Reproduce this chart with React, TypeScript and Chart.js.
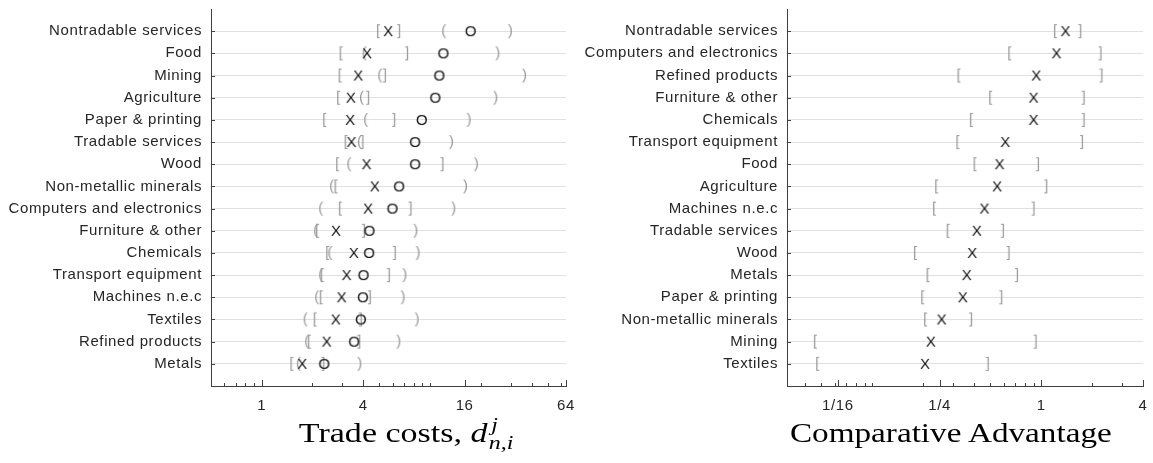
import React, { useEffect, useRef } from "react";
import { Chart, registerables } from "chart.js";

Chart.register(...registerables);

// ---------- data ----------
const leftCategories = [
  "Nontradable services", "Food", "Mining", "Agriculture", "Paper & printing",
  "Tradable services", "Wood", "Non-metallic minerals", "Computers and electronics",
  "Furniture & other", "Chemicals", "Transport equipment", "Machines n.e.c",
  "Textiles", "Refined products", "Metals",
];
// X marker and its [ ] interval
const leftX = [5.63, 4.22, 3.74, 3.38, 3.35, 3.41, 4.19, 4.69, 4.28, 2.76, 3.52, 3.19, 2.98, 2.75, 2.43, 1.74];
const leftXLow = [4.96, 2.98, 2.94, 2.88, 2.38, 3.19, 2.84, 2.78, 2.95, 2.16, 2.48, 2.30, 2.27, 2.09, 1.93, 1.52];
const leftXHigh: (number | null)[] = [6.54, 7.29, 5.38, 4.28, 6.11, 3.96, 11.82, null, 7.64, 4.04, 6.16, 5.68, 4.38, 3.87, 3.79, 2.32];
// O marker and its ( ) interval
const leftO = [17.3, 11.92, 11.28, 10.68, 8.87, 8.10, 8.10, 6.51, 5.94, 4.34, 4.32, 4.0, 3.97, 3.86, 3.52, 2.34];
const leftOLow = [12.03, 4.06, 5.02, 3.91, 4.14, 3.80, 3.29, 2.60, 2.24, 2.09, 2.54, 2.24, 2.12, 1.81, 1.85, 1.65];
const leftOHigh = [29.9, 25.2, 36.3, 24.5, 17.0, 13.36, 18.8, 16.2, 13.8, 8.21, 8.47, 7.07, 6.90, 8.36, 6.51, 3.82];

const rightCategories = [
  "Nontradable services", "Computers and electronics", "Refined products",
  "Furniture & other", "Chemicals", "Transport equipment", "Food", "Agriculture",
  "Machines n.e.c", "Tradable services", "Wood", "Metals", "Paper & printing",
  "Non-metallic minerals", "Mining", "Textiles",
];
const rightX = [1.39, 1.23, 0.934, 0.90, 0.90, 0.612, 0.566, 0.548, 0.461, 0.415, 0.390, 0.362, 0.343, 0.257, 0.222, 0.205];
const rightLow = [1.22, 0.655, 0.328, 0.505, 0.388, 0.323, 0.408, 0.242, 0.235, 0.283, 0.181, 0.215, 0.200, 0.208, 0.0463, 0.0478];
const rightHigh = [1.70, 2.24, 2.27, 1.78, 1.78, 1.74, 0.955, 1.07, 0.90, 0.592, 0.640, 0.717, 0.579, 0.384, 0.925, 0.482];

const leftTickValues = [1, 4, 16, 64];
const leftTickLabels = ["1", "4", "16", "64"];
const rightTickValues = [1 / 16, 1 / 4, 1, 4];
const rightTickLabels = ["1/16", "1/4", "1", "4"];

// ---------- styles ----------
const SANS = "'Liberation Sans', Arial, Helvetica, sans-serif";
const SERIF = "'Liberation Serif', 'Times New Roman', serif";
const TEXT = "#262626";
const AXIS = "#404040";
const GRID = "#e0e0e0";
const MARK = "#111111";
const BRACKET = "#9a9a9a";

function glyph(ch: string, color: string, size = 15): HTMLCanvasElement {
  const c = document.createElement("canvas");
  let ctx = c.getContext("2d")!;
  const font = `${size}px ${SANS}`;
  ctx.font = font;
  const m = ctx.measureText(ch);
  const l = m.actualBoundingBoxLeft;
  const r = m.actualBoundingBoxRight;
  const a = m.actualBoundingBoxAscent;
  const d = m.actualBoundingBoxDescent;
  const pad = 2;
  c.width = Math.ceil(l + r) + pad * 2;
  c.height = Math.ceil(a + d) + pad * 2;
  ctx = c.getContext("2d")!;
  ctx.font = font;
  ctx.fillStyle = color;
  ctx.textBaseline = "alphabetic";
  ctx.textAlign = "left";
  ctx.fillText(ch, pad + l, pad + a);
  return c;
}

function minorTicks(min: number, max: number): number[] {
  const out: number[] = [];
  for (let k = -3; k <= 3; k++) {
    for (let dgt = 1; dgt <= 9; dgt++) {
      const v = dgt * Math.pow(10, k);
      if (v >= min * 0.9999 && v <= max * 1.0001) out.push(v);
    }
  }
  return out;
}

function near(a: number, b: number) {
  return Math.abs(Math.log(a) - Math.log(b)) < 1e-6;
}

function setSpacing(chart: any) {
  try {
    chart.ctx.letterSpacing = "0.6px";
  } catch (e) {}
}

const letterSpacingPlugin = {
  id: "letterSpacing",
  beforeUpdate: setSpacing,
  beforeLayout: setSpacing,
  beforeDraw: setSpacing,
};

const inwardTicks = {
  id: "inwardTicks",
  afterDraw(chart: any) {
    const { ctx, chartArea, scales } = chart;
    const xs = scales.x;
    const ys = scales.y;
    const majors: number[] = chart.options.plugins.inwardTicks.majors;
    ctx.save();
    ctx.strokeStyle = AXIS;
    ctx.lineWidth = 1;
    ctx.beginPath();
    xs.ticks.forEach((t: any) => {
      const px = Math.round(xs.getPixelForValue(t.value)) + 0.5;
      const isMajor = majors.some((m) => near(m, t.value));
      const len = isMajor ? 6 : 3;
      ctx.moveTo(px, chartArea.bottom);
      ctx.lineTo(px, chartArea.bottom - len);
    });
    ys.ticks.forEach((t: any) => {
      const py = Math.round(ys.getPixelForValue(t.value)) + 0.5;
      ctx.moveTo(chartArea.left, py);
      ctx.lineTo(chartArea.left + 4, py);
    });
    ctx.stroke();
    ctx.restore();
  },
};

function pts(vals: (number | null)[]) {
  const out: { x: number; y: number }[] = [];
  vals.forEach((v, i) => {
    if (v != null) out.push({ x: v, y: i });
  });
  return out;
}

function ds(vals: (number | null)[], img: HTMLCanvasElement) {
  return {
    data: pts(vals),
    pointStyle: img,
    pointRadius: 5,
    pointHoverRadius: 5,
    showLine: false,
  };
}

function makeConfig(
  cats: string[],
  datasets: any[],
  xmin: number,
  xmax: number,
  majors: number[],
  majorLabels: string[]
): any {
  const tickVals = [...minorTicks(xmin, xmax), ...majors].sort((a, b) => a - b);
  const uniq: number[] = [];
  tickVals.forEach((v) => {
    if (!uniq.some((u) => near(u, v))) uniq.push(v);
  });
  return {
    type: "scatter",
    data: { datasets },
    options: {
      animation: false,
      responsive: false,
      maintainAspectRatio: false,
      events: [],
      layout: { padding: { top: 9, right: 10, left: 0, bottom: 0 } },
      plugins: {
        legend: { display: false },
        tooltip: { enabled: false },
        inwardTicks: { majors },
      },
      scales: {
        x: {
          type: "logarithmic",
          min: xmin,
          max: xmax,
          position: "bottom",
          afterBuildTicks: (s: any) => {
            s.ticks = uniq.map((v) => ({ value: v }));
          },
          afterFit: (s: any) => {
            s.height = 77;
            s.paddingLeft = 0;
            s.paddingRight = 0;
          },
          grid: { display: true, color: "rgba(0,0,0,0)", drawTicks: false },
          border: { display: true, color: AXIS, width: 1 },
          ticks: {
            autoSkip: false,
            maxRotation: 0,
            minRotation: 0,
            padding: 11,
            color: TEXT,
            font: { family: SANS, size: 15 },
            callback: (v: number) => {
              const idx = majors.findIndex((m) => near(m, v));
              return idx >= 0 ? majorLabels[idx] : "";
            },
          },
        },
        y: {
          type: "linear",
          min: -1,
          max: cats.length,
          reverse: true,
          afterBuildTicks: (s: any) => {
            s.ticks = cats.map((_, i) => ({ value: i }));
          },
          afterFit: (s: any) => {
            s.width = 211;
            s.paddingTop = 0;
            s.paddingBottom = 0;
          },
          grid: { color: GRID, lineWidth: 1, drawTicks: false },
          border: { display: true, color: AXIS, width: 1 },
          ticks: {
            autoSkip: false,
            padding: 9,
            color: TEXT,
            font: { family: SANS, size: 15 },
            callback: (v: number) => cats[v] ?? "",
          },
        },
      },
    },
    plugins: [letterSpacingPlugin, inwardTicks],
  };
}

export default function App() {
  const leftRef = useRef<HTMLCanvasElement | null>(null);
  const rightRef = useRef<HTMLCanvasElement | null>(null);

  useEffect(() => {
    const gX = glyph("X", MARK);
    const gO = glyph("O", MARK);
    const gLB = glyph("[", BRACKET);
    const gRB = glyph("]", BRACKET);
    const gLP = glyph("(", BRACKET);
    const gRP = glyph(")", BRACKET);

    const left = new Chart(
      leftRef.current!,
      makeConfig(
        leftCategories,
        [
          ds(leftX, gX),
          ds(leftO, gO),
          ds(leftXLow, gLB),
          ds(leftXHigh, gRB),
          ds(leftOLow, gLP),
          ds(leftOHigh, gRP),
        ],
        0.5,
        64,
        leftTickValues,
        leftTickLabels
      )
    );
    const right = new Chart(
      rightRef.current!,
      makeConfig(
        rightCategories,
        [ds(rightX, gX), ds(rightLow, gLB), ds(rightHigh, gRB)],
        1 / 32,
        4,
        rightTickValues,
        rightTickLabels
      )
    );
    return () => {
      left.destroy();
      right.destroy();
    };
  }, []);

  const titleStyle: React.CSSProperties = {
    position: "absolute",
    top: 420,
    width: 400,
    textAlign: "center",
    fontFamily: SERIF,
    fontSize: 27,
    lineHeight: "27px",
    color: "#000",
    whiteSpace: "nowrap",
  };

  return (
    <div
      style={{
        position: "absolute",
        left: 0,
        top: 0,
        width: 1153,
        height: 463,
        background: "#fff",
        overflow: "hidden",
      }}
    >
      <canvas
        ref={leftRef}
        width={576}
        height={463}
        style={{ position: "absolute", left: 0, top: 0, width: 576, height: 463 }}
      />
      <canvas
        ref={rightRef}
        width={577}
        height={463}
        style={{ position: "absolute", left: 576, top: 0, width: 577, height: 463 }}
      />
      <div style={{ ...titleStyle, left: 206 }}>
        <span style={{ display: "inline-block", transform: "scaleX(1.26)" }}>
          Trade costs,{" "}
          <span style={{ fontStyle: "italic" }}>d</span>
          <span
            style={{
              position: "relative",
              display: "inline-block",
              fontSize: 19,
              fontStyle: "italic",
              marginLeft: 1,
            }}
          >
            <span style={{ position: "absolute", left: 2, top: -11 }}>j</span>
            <span style={{ position: "relative", top: 7 }}>n,i</span>
          </span>
        </span>
      </div>
      <div style={{ ...titleStyle, left: 751 }}>
        <span style={{ display: "inline-block", transform: "scaleX(1.23)" }}>
          Comparative Advantage
        </span>
      </div>
    </div>
  );
}
